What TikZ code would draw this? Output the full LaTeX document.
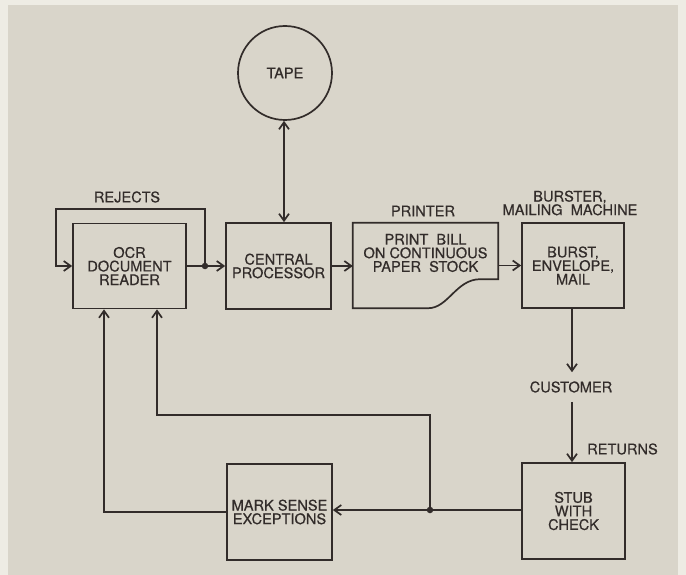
\documentclass[tikz,border=0pt]{standalone}
\usepackage{fontspec}
\setmainfont[FakeBold=0.6,BoldFont=TeX Gyre Heros]{TeX Gyre Heros}
\usetikzlibrary{arrows.meta}
\definecolor{paper}{RGB}{217,213,202}
\definecolor{rim}{RGB}{238,236,228}
\definecolor{ink}{RGB}{50,44,42}
\begin{document}
\begin{tikzpicture}[x=1pt,y=-1pt,
  lbl/.style={font=\fontsize{14.6}{13.6}\selectfont\addfontfeature{FakeBold=0.5}, text=ink, align=center, inner sep=0pt},
  box/.style={lbl, draw=ink, line width=1.7pt},
  wire/.style={draw=ink, line width=1.7pt},
  arr/.style={wire, -{Straight Barb[length=7pt,width=10pt]}},
  darr/.style={wire, {Straight Barb[length=7pt,width=10pt]}-{Straight Barb[length=7pt,width=10pt]}},
  junc/.style={circle, fill=ink, inner sep=0pt, minimum size=6.5pt}]
% background
\fill[rim] (0,0) rectangle (686,575);
\fill[paper] (8,5) rectangle (678,575);
\useasboundingbox (0,0) rectangle (686,575);

% nodes
\node[circle, draw=ink, line width=1.7pt, minimum size=94pt, inner sep=0pt] (tape) at (285,73) {};
\node[lbl] at (tape.center) {TAPE};

\node[box, minimum width=113pt, minimum height=85pt] (ocr) at (129.5,266) {OCR\\DOCUMENT\\READER};
\node[box, minimum width=105pt, minimum height=86pt] (cpu) at (278.5,266) {CENTRAL\\PROCESSOR};
\node[minimum width=145pt, minimum height=85pt, inner sep=0pt] (prt) at (425.5,265.5) {};
\node[lbl] (prttext) at (425.5,253) {PRINT\ \ BILL\\ON CONTINUOUS\\PAPER\ \ STOCK};
\node[lbl] (prtlabel) at (423,211) {PRINTER};
\node[box, minimum width=102pt, minimum height=85pt] (burst) at (573,265.5) {BURST,\\ENVELOPE,\\MAIL};
\node[lbl] (burstlabel) at (570,203) {BURSTER,\\MAILING\ \ MACHINE};
\node[lbl] (rej) at (127,197) {REJECTS};

\node[lbl, inner ysep=9pt] (cust) at (571,387) {CUSTOMER};
\node[lbl, anchor=west] (ret) at (587,449) {RETURNS};
\node[box, minimum width=103pt, minimum height=96pt] (stub) at (573.5,511) {STUB\\WITH\\CHECK};
\node[box, minimum width=105pt, minimum height=96pt] (mark) at (279.5,512) {MARK SENSE\\EXCEPTIONS};

% printer document shape
\draw[wire, line join=miter] (prt.south west) -- (prt.north west) -- (prt.north east)
  -- ([yshift=29pt]prt.south east) -- ([xshift=-18pt,yshift=29pt]prt.south east)
  .. controls ([xshift=-42pt,yshift=29pt]prt.south east) and ([xshift=-50pt]prt.south east) .. ([xshift=-70pt]prt.south east)
  -- cycle;

% junctions
\coordinate (j1) at (205,266);
\coordinate (j2) at (430,510);
\node[junc] (d1) at (j1) {};
\node[junc] (d2) at (j2) {};

% connectors
\draw[darr] (tape.south -| 284,0) -- (cpu.north -| 284,0);
\draw[wire] (ocr.east) -- (d1);
\draw[arr] (d1) -- (cpu.west);
\coordinate (r1) at (205,209);
\coordinate (r2) at (56,209);
\coordinate (r3) at (56,266);
\draw[arr] (d1.center) -- (r1) -- (r2) -- (r3) -- (ocr.west);
\draw[arr] (cpu.east) -- (cpu.east -| prt.west);
\draw[arr] (prt.east |- burst.west) -- (burst.west);
\draw[arr] (burst.south -| 572,0) -- (cust.north -| 572,0);
\draw[arr] (cust.south -| 572,0) -- (stub.north -| 572,0);
\draw[wire] (stub.west |- d2) -- (d2);
\draw[arr] (d2) -- (mark.east |- d2);
\coordinate (a1) at (430,415);
\coordinate (a2) at (157,415);
\draw[arr] (d2.center) -- (a1) -- (a2) -- (ocr.south -| a2);
\coordinate (b1) at (104,512);
\draw[arr] (mark.west) -- (b1) -- (ocr.south -| b1);
\end{tikzpicture}
\end{document}
